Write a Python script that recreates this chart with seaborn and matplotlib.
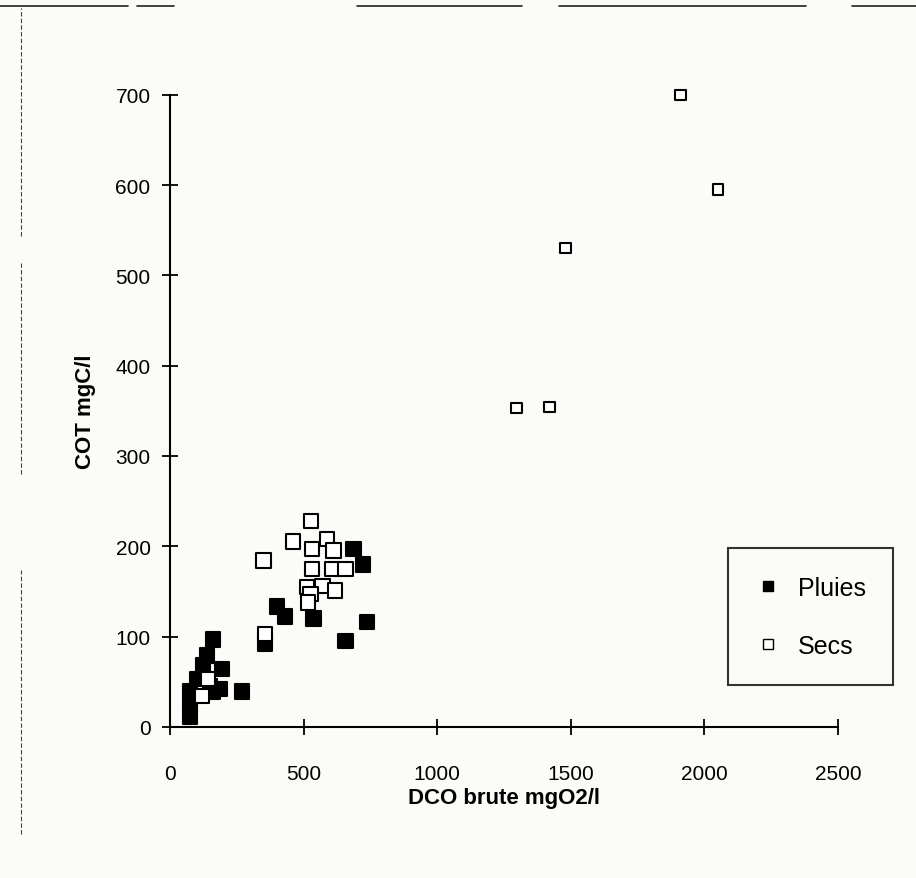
import matplotlib
matplotlib.use("Agg")
import matplotlib.pyplot as plt
from matplotlib.lines import Line2D
import pandas as pd
import seaborn as sns

# Valeurs (DCO brute mgO2/l, COT mgC/l)
pluies_dco = [686, 723, 401, 431, 536, 738, 656, 356, 270,
              161, 139, 124, 195, 101, 187, 161, 75, 75, 75, 150]
pluies_cot = [197, 180, 133, 122, 120, 116, 95, 92, 39,
              97, 79, 68, 64, 53, 42, 39, 39, 23, 11, 45]

secs_dco = [1910, 2050, 1480, 1297, 1420,
            528, 461, 588, 532, 611, 349, 532, 607, 656,
            513, 570, 618, 525, 517, 356, 142, 120]
secs_cot = [700, 595, 530, 353, 354,
            228, 205, 208, 197, 195, 184, 175, 175, 175,
            155, 156, 151, 147, 138, 103, 53, 34]

data = pd.concat([
    pd.DataFrame({"dco": pluies_dco, "cot": pluies_cot, "type": "Pluies"}),
    pd.DataFrame({"dco": secs_dco, "cot": secs_cot, "type": "Secs"}),
])
# les points isolés sont plus petits sur l'original
data["taille"] = (data["dco"] > 1000).map({True: "petit", False: "grand"})

sns.set_style("ticks")
plt.rcParams["font.family"] = ["Liberation Sans", "DejaVu Sans"]
plt.rcParams["text.color"] = "black"
plt.rcParams["axes.labelcolor"] = "black"
plt.rcParams["xtick.color"] = "black"
plt.rcParams["ytick.color"] = "black"

fig = plt.figure(figsize=(9.16, 8.79), dpi=100, facecolor="#fbfbf8")
ax = fig.add_axes([0.1856, 0.172, 0.7293, 0.719])
ax.set_facecolor("#fbfbf8")

sns.scatterplot(data=data, x="dco", y="cot", hue="type", style="type",
                size="taille", sizes={"grand": 110, "petit": 55},
                palette={"Pluies": "black", "Secs": "white"},
                markers={"Pluies": "s", "Secs": "s"},
                edgecolor="black", linewidth=1.5, ax=ax, legend=False)
for coll in ax.collections:
    coll.set_clip_on(False)

ax.set_xlim(0, 2500)
ax.set_ylim(0, 700)
ax.set_xticks([0, 500, 1000, 1500, 2000, 2500])
ax.set_yticks([0, 100, 200, 300, 400, 500, 600, 700])
ax.tick_params(direction="inout", length=12, width=1.3, labelsize=15, colors="black")
ax.tick_params(axis="x", pad=21)
ax.tick_params(axis="y", pad=8)
ax.spines["top"].set_visible(False)
ax.spines["right"].set_visible(False)
for sp in ["left", "bottom"]:
    ax.spines[sp].set_linewidth(1.5)
    ax.spines[sp].set_color("black")

ax.set_xlabel("DCO brute mgO2/l", fontsize=16, fontweight="bold", labelpad=3)
ax.set_ylabel("COT mgC/l", fontsize=16, fontweight="bold", labelpad=14)

handles = [
    Line2D([], [], marker="s", color="none", markerfacecolor="black",
           markeredgecolor="black", markersize=7, label="Pluies"),
    Line2D([], [], marker="s", color="none", markerfacecolor="white",
           markeredgecolor="black", markersize=7, label="Secs"),
]
leg = fig.legend(handles=handles, loc="upper right", bbox_to_anchor=(0.975, 0.375),
                 fontsize=18, frameon=True, fancybox=False, edgecolor="black",
                 borderpad=1.1, labelspacing=1.35, handletextpad=0.7,
                 handlelength=1.0, borderaxespad=0)
leg.get_frame().set_linewidth(1.5)
leg.get_frame().set_facecolor("#fbfbf8")

# traits parasites du document scanné
for x0, x1 in [(0.0, 0.14), (0.15, 0.19), (0.39, 0.57), (0.61, 0.88), (0.93, 1.0)]:
    fig.add_artist(Line2D([x0, x1], [0.992, 0.992], color="#222222", lw=1.2))
for y0, y1 in [(0.73, 0.99), (0.46, 0.70), (0.05, 0.35)]:
    fig.add_artist(Line2D([0.023, 0.023], [y0, y1], color="#444444", lw=0.8,
                          linestyle=(0, (4, 2))))

fig.savefig("out.png", dpi=100, facecolor=fig.get_facecolor())
